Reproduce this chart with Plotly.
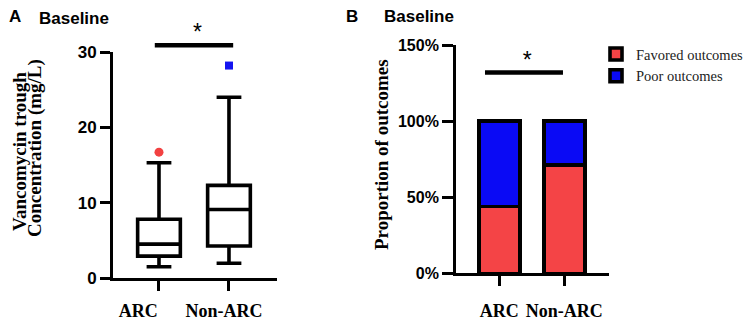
import plotly.graph_objects as go

W, H = 753, 320
OFF = 8  # the page body margin shifts the figure by 8 px

# panel A: vancomycin trough concentration box plot
groups = ["ARC", "Non-ARC"]
box_low = [1.5, 1.95]
box_q1 = [2.9, 4.25]
box_median = [4.5, 9.1]
box_q3 = [7.8, 12.3]
box_high = [15.3, 24.0]
outliers = [16.7, 28.2]
outlier_colors = ["#f24141", "#1414f0"]
outlier_symbols = ["circle", "square"]

# panel B: proportion of outcomes (%)
favored = [44, 71]
poor = [56, 29]

RED = "#f44446"
BLUE = "#0a0af5"

SERIF = "Liberation Serif"
SANS = "Liberation Sans"


def px_x(p):
    return (p - OFF) / W


def px_y(p):
    return 1 - (p - OFF) / H


fig = go.Figure()

# ---- panel A ----
for i, g in enumerate(groups):
    fig.add_trace(go.Box(
        x=[i], q1=[box_q1[i]], median=[box_median[i]], q3=[box_q3[i]],
        lowerfence=[box_low[i]], upperfence=[box_high[i]],
        width=0.61, whiskerwidth=0.58,
        fillcolor="white", line=dict(color="black", width=3.6),
        boxpoints=False, showlegend=False, hoverinfo="skip",
        xaxis="x", yaxis="y3",
    ))
    fig.add_trace(go.Scatter(
        x=[i], y=[outliers[i]], mode="markers",
        marker=dict(color=outlier_colors[i], symbol=outlier_symbols[i],
                    size=9 if i == 0 else 8),
        showlegend=False, xaxis="x", yaxis="y3",
    ))

# significance bar A
fig.add_trace(go.Scatter(
    x=[-0.06, 1.06], y=[30.9, 30.9], mode="lines",
    line=dict(color="black", width=4.5), showlegend=False,
    xaxis="x", yaxis="y3",
))
fig.add_trace(go.Scatter(
    x=[0.55], y=[32.3], mode="text", text=["*"], cliponaxis=False,
    textfont=dict(family=SANS, size=23, color="black"),
    showlegend=False, xaxis="x", yaxis="y3",
))
# dummy trace so the visible axis pair exists
fig.add_trace(go.Scatter(x=[0], y=[0], mode="markers", opacity=0,
                         showlegend=False, hoverinfo="skip",
                         xaxis="x", yaxis="y"))

# ---- panel B ----
fig.add_trace(go.Bar(
    x=[0, 1], y=favored, name="Favored outcomes", width=0.63,
    marker=dict(color=RED, line=dict(color="black", width=3.6)),
    xaxis="x2", yaxis="y2",
))
fig.add_trace(go.Bar(
    x=[0, 1], y=poor, name="Poor outcomes", width=0.63,
    marker=dict(color=BLUE, line=dict(color="black", width=3.6)),
    xaxis="x2", yaxis="y2",
))
fig.add_trace(go.Scatter(
    x=[-0.22, 0.98], y=[132, 132], mode="lines",
    line=dict(color="black", width=4.5), showlegend=False,
    xaxis="x2", yaxis="y2",
))
fig.add_trace(go.Scatter(
    x=[0.43], y=[139], mode="text", text=["*"], cliponaxis=False,
    textfont=dict(family=SANS, size=23, color="black"),
    showlegend=False, xaxis="x2", yaxis="y2",
))

axis_common = dict(
    showline=True, linecolor="black", linewidth=2.8,
    ticks="outside", tickcolor="black", tickwidth=2.8, ticklen=10,
    showgrid=False, zeroline=False, fixedrange=True, automargin=False,
)

a_bottom, a_top = 278, 52
b_bottom, b_top = 273.3, 45

tick_serif = dict(family=SERIF, size=18, color="black", weight="bold")

fig.update_layout(
    width=W, height=H,
    margin=dict(l=0, r=0, t=0, b=0, autoexpand=False),
    paper_bgcolor="white", plot_bgcolor="rgba(0,0,0,0)",
    barmode="stack",
    showlegend=True,
    legend=dict(x=px_x(596), y=px_y(38), xanchor="left", yanchor="top",
                traceorder="normal",
                font=dict(family=SERIF, size=14.5, color="#222"),
                bgcolor="rgba(0,0,0,0)", itemwidth=30),
    xaxis=dict(
        axis_common, domain=[px_x(113), px_x(277)], range=[-0.657, 1.686],
        anchor="y", tickvals=[0, 1], tickangle=0,
        ticktext=[groups[0] + "\u00a0" * 7, groups[1]],
        tickfont=tick_serif, ticklabelstandoff=4, ticklabelshift=-5,
    ),
    yaxis=dict(
        axis_common, domain=[px_y(a_bottom), px_y(a_top)], range=[0, 30],
        anchor="x", tickvals=[0, 10, 20, 30],
        tickfont=dict(family=SANS, size=17, color="black", weight="bold"),
    ),
    yaxis3=dict(
        domain=[px_y(a_bottom), 1],
        range=[0, 30 * (a_bottom - OFF) / (a_bottom - a_top)],
        anchor="x", visible=False, fixedrange=True,
    ),
    xaxis2=dict(
        axis_common, domain=[px_x(456), px_x(609)], range=[-0.666, 1.688],
        anchor="y2", tickvals=[0, 1], ticktext=groups, tickangle=0,
        tickfont=tick_serif, ticklabelstandoff=9,
    ),
    yaxis2=dict(
        axis_common, domain=[px_y(b_bottom), px_y(b_top)], range=[0, 150],
        anchor="x2", tickvals=[0, 50, 100, 150], ticklen=11,
        ticktext=["0%", "50%", "100%", "150%"],
        tickfont=dict(family=SANS, size=16, color="black", weight="bold"),
    ),
)

ann_bold_sans = dict(family=SANS, size=17, color="black", weight="bold")
title_serif = dict(family=SERIF, size=19, color="black", weight="bold")
annotations = [
    dict(text="A", x=px_x(15), y=px_y(16), font=ann_bold_sans),
    dict(text="Baseline", x=px_x(74), y=px_y(18), font=ann_bold_sans),
    dict(text="B", x=px_x(352), y=px_y(16), font=ann_bold_sans),
    dict(text="Baseline", x=px_x(419), y=px_y(16), font=ann_bold_sans),
    dict(text="Vancomycin trough", textangle=-90,
         x=px_x(19), y=px_y(152), font=title_serif),
    dict(text="Concentration (mg/L)", textangle=-90,
         x=px_x(35), y=px_y(148), font=title_serif),
    dict(text="Proportion of outcomes", textangle=-90,
         x=px_x(381), y=px_y(155), font=title_serif),
]
for a in annotations:
    a.update(xref="paper", yref="paper", showarrow=False,
             xanchor="center", yanchor="middle")
fig.update_layout(annotations=annotations)

fig.write_html("out.html")
